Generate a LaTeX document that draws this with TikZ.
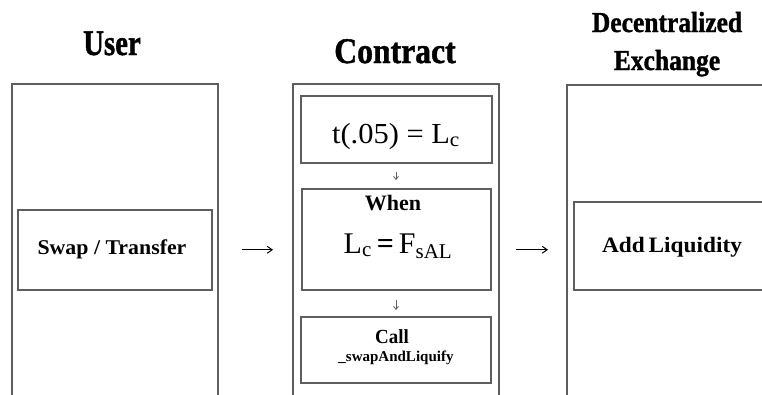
\documentclass[tikz,border=0pt]{standalone}
\usepackage{fontspec}
\setmainfont{Liberation Serif}
\newfontfamily\heavyfont[UprightFont=* Bold, FakeBold=1.3]{Liberation Serif}
\usetikzlibrary{arrows.meta}
\definecolor{boxgray}{HTML}{5E5E5E}
\tikzset{
  outerbox/.style={draw=boxgray, line width=1.5pt, inner sep=0pt, anchor=north west},
  innerbox/.style={draw=boxgray, line width=1.5pt, inner sep=0pt, anchor=north west},
  title/.style={font=\heavyfont\fontsize{36}{40}\selectfont, inner sep=0pt, anchor=base},
  smalltitle/.style={font=\heavyfont\fontsize{29}{32}\selectfont, inner sep=0pt, anchor=base},
  label/.style={inner sep=0pt, anchor=base},
  flow/.style={line width=1pt, -{Straight Barb[length=5pt,width=7pt]}},
  down/.style={draw=boxgray, line width=0.8pt, -{Straight Barb[length=3pt,width=5pt]}}
}
\begin{document}
\begin{tikzpicture}[x=1pt,y=-1pt]
\useasboundingbox (0,0) rectangle (762,394);
\clip (0,0) rectangle (762,394);
% titles
\node[title] (tuser) at (112,55) {\scalebox{0.8}[1]{User}};
\node[title] (tcontract) at (395,63) {\scalebox{0.88}[1]{Contract}};
\node[smalltitle] (tdex1) at (667,32) {\scalebox{0.88}[1]{Decentralized}};
\node[smalltitle] (tdex2) at (667,70) {\scalebox{0.88}[1]{Exchange}};
% outer boxes
\node[outerbox, minimum width=206pt, minimum height=314pt] (user) at (11,83) {};
\node[outerbox, minimum width=206pt, minimum height=314pt] (contract) at (292,83) {};
\node[outerbox, minimum width=210pt, minimum height=314pt] (dex) at (566,84) {};
% inner boxes
\node[innerbox, minimum width=194pt, minimum height=80pt] (swap) at (17,209) {};
\node[innerbox, minimum width=191pt, minimum height=67pt] (b1) at (300,95) {};
\node[innerbox, minimum width=189pt, minimum height=101pt] (b2) at (301,188) {};
\node[innerbox, minimum width=190pt, minimum height=66pt] (b3) at (300,316) {};
\node[innerbox, minimum width=200pt, minimum height=88pt] (addliq) at (573,201) {};
% texts
\node[label, font=\bfseries\fontsize{21}{24}\selectfont] (tswap) at (112,254) {\scalebox{1.04}[1]{Swap / Transfer}};
\node[label, font=\bfseries\fontsize{22}{24}\selectfont] (tadd) at (672,252) {\scalebox{1.06}[1]{Add\,Liquidity}};
\node[label, font=\fontsize{29}{32}\selectfont] (tb1) at (396,143) {\scalebox{1.05}[1]{t(.05) = L\textsubscript{c}}};
\node[label, font=\bfseries\fontsize{22}{24}\selectfont] (twhen) at (393,210) {When};
\node[label, font=\fontsize{30}{32}\selectfont] (teq) at (398,253) {L\textsubscript{c}\,\textbf{=}\,F\textsubscript{sAL}};
\node[label, font=\bfseries\fontsize{20}{22}\selectfont] (tcall) at (392,343) {\scalebox{0.95}[1]{Call}};
\node[label, font=\bfseries\fontsize{15}{17}\selectfont] (tswapliq) at (396,361) {\_swapAndLiquify};
% connectors
\draw[flow, shorten <=29pt, shorten >=19pt] (swap.east) -- (contract.west |- swap.east);
\draw[flow, shorten <=16pt, shorten >=18pt] (contract.east |- swap.east) -- (dex.west |- swap.east);
\draw[down, shorten <=8pt, shorten >=8pt] (b1.south -| tb1) -- (b2.north -| tb1);
\draw[down, shorten <=9pt, shorten >=6pt] (b2.south -| tb1) -- (b3.north -| tb1);
\end{tikzpicture}
\end{document}
